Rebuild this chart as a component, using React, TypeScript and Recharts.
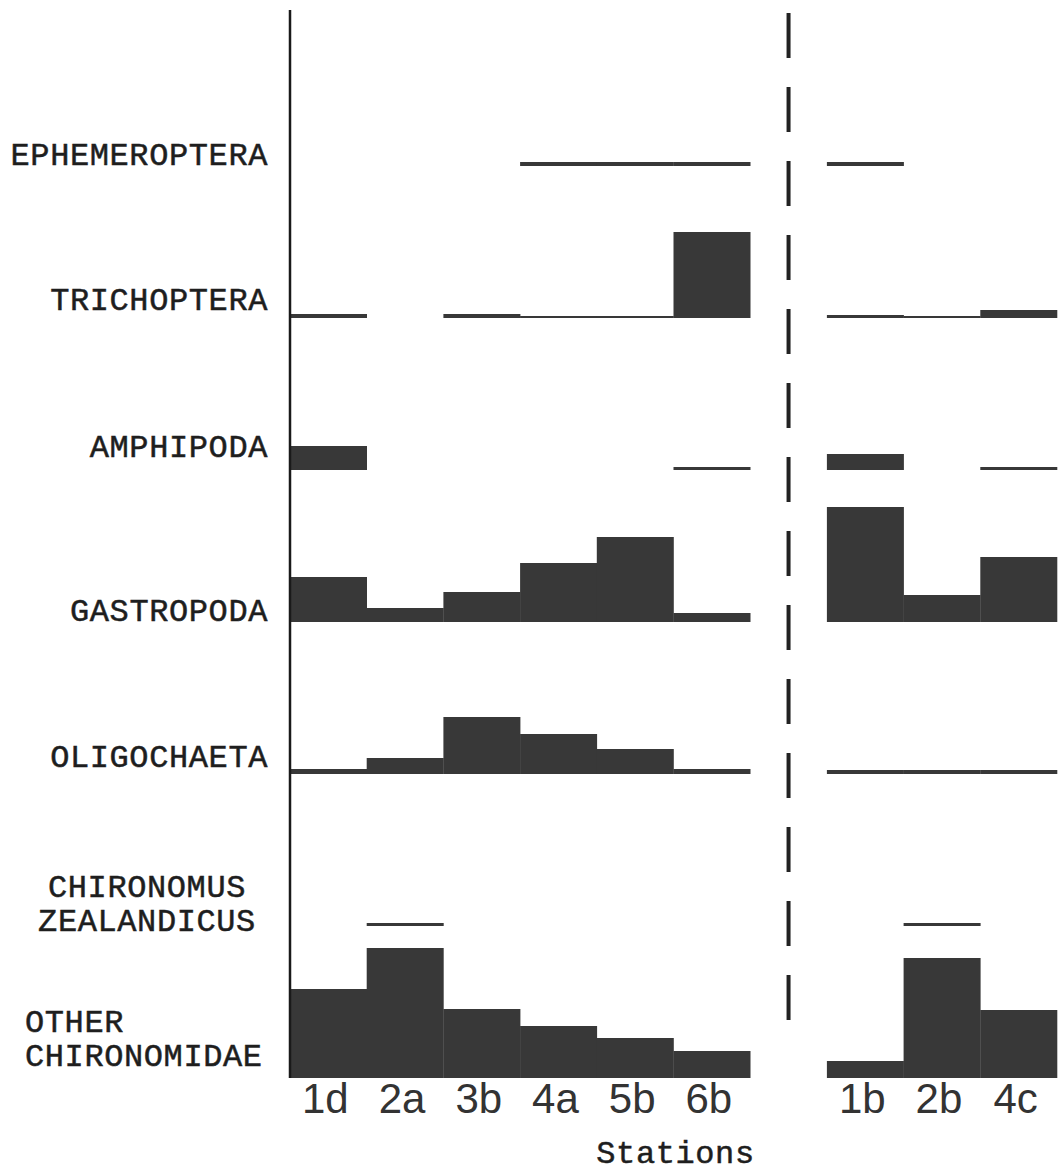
import React from 'react';
import { BarChart, Bar, XAxis, YAxis, ReferenceLine } from 'recharts';

// ---- data (arbitrary abundance units) ----
const stations = ['1d', '2a', '3b', '4a', '5b', '6b', ' ', '1b', '2b', '4c'];

const taxaLabels: string[][] = [
  ['EPHEMEROPTERA'],
  ['TRICHOPTERA'],
  ['AMPHIPODA'],
  ['GASTROPODA'],
  ['OLIGOCHAETA'],
  ['CHIRONOMUS', 'ZEALANDICUS'],
  ['OTHER', 'CHIRONOMIDAE'],
];

const ephemeroptera = [null, null, null, 4, 4, 4, null, 4, null, null];
const trichoptera = [4, null, 4, 2, 2, 86, null, 3, 2, 8];
const amphipoda = [24, null, null, null, null, 3, null, 16, null, 3];
const gastropoda = [45, 14, 30, 59, 85, 9, null, 115, 27, 65];
const oligochaeta = [5, 16, 57, 40, 25, 5, null, 4, 4, 4];
const chironomusZealandicus = [null, 3, null, null, null, null, null, null, 3, null];
const otherChironomidae = [89, 130, 69, 52, 40, 27, null, 17, 120, 68];

const seriesList: (number | null)[][] = [
  ephemeroptera,
  trichoptera,
  amphipoda,
  gastropoda,
  oligochaeta,
  chironomusZealandicus,
  otherChironomidae,
];

// ---- layout: baseline of each row on the shared vertical scale ----
const rowBase = [912, 760, 608, 456, 304, 152, 0];
const yMax = 1068;

const labelLayout = [
  { anchor: 'end', dx: 0, dy: -11 },
  { anchor: 'end', dx: 0, dy: -18 },
  { anchor: 'end', dx: 0, dy: -23 },
  { anchor: 'end', dx: 0, dy: -11 },
  { anchor: 'end', dx: 0, dy: -17 },
  { anchor: 'middle', dx: -121, dy: -39 },
  { anchor: 'start', dx: -243, dy: -56 },
];

const tableData = stations.map((s, i) => {
  const row: Record<string, any> = { station: s };
  seriesList.forEach((vals, k) => {
    const v = vals[i];
    row['t' + k] = v == null ? null : [rowBase[k], rowBase[k] + v];
  });
  return row;
});

const monoFont = '"Liberation Mono", "Courier New", monospace';
const sansFont = '"Liberation Sans", Arial, sans-serif';

const TaxonTick = (props: any) => {
  const { x, y, payload } = props;
  const k = rowBase.indexOf(payload.value);
  if (k < 0) return null;
  const lay = labelLayout[k];
  const lines = taxaLabels[k];
  return (
    <g>
      {lines.map((ln, j) => (
        <text
          key={j}
          x={x + lay.dx}
          y={y + lay.dy + 10 + j * 34}
          textAnchor={lay.anchor as any}
          fontFamily={monoFont}
          fontSize={32}
          letterSpacing={0.6}
          fill="#1e1e1e"
          stroke="#1e1e1e"
          strokeWidth={0.5}
        >
          {ln}
        </text>
      ))}
    </g>
  );
};

const StationTick = (props: any) => {
  const { x, y, payload } = props;
  return (
    <text
      x={x - 3}
      y={y + 35}
      textAnchor="middle"
      fontFamily={sansFont}
      fontSize={42}
      fill="#333"
    >
      {payload.value}
    </text>
  );
};

const StationsLabel = (props: any) => {
  const vb = props.viewBox || { x: 290, y: 1078, width: 767, height: 40 };
  return (
    <text
      x={vb.x + vb.width / 2 + 2}
      y={vb.y + 85}
      textAnchor="middle"
      fontFamily={monoFont}
      fontSize={32}
      letterSpacing={0.6}
      fill="#1e1e1e"
      stroke="#1e1e1e"
      strokeWidth={0.5}
    >
      Stations
    </text>
  );
};

export default function App() {
  return (
    <div
      style={{
        position: 'absolute',
        left: 0,
        top: 0,
        width: 1058,
        height: 1172,
        background: '#fff',
        overflow: 'hidden',
      }}
    >
      <BarChart
        width={1058}
        height={1172}
        data={tableData}
        margin={{ top: 10, right: 1, bottom: 54, left: 0 }}
        barCategoryGap={0}
        barGap={0}
      >
        <XAxis
          xAxisId="main"
          dataKey="station"
          height={40}
          axisLine={false}
          tickLine={false}
          tickSize={0}
          tickMargin={0}
          interval={0}
          tick={StationTick}
          label={{ value: 'Stations', content: StationsLabel }}
        />
        {seriesList.map((_, k) => (
          <XAxis key={'x' + k} xAxisId={'x' + k} dataKey="station" hide />
        ))}
        <YAxis
          type="number"
          domain={[0, yMax]}
          ticks={rowBase}
          interval={0}
          allowDataOverflow
          width={290}
          tickLine={false}
          tickSize={0}
          tickMargin={22}
          axisLine={{ stroke: '#1a1a1a', strokeWidth: 2.5 }}
          tick={TaxonTick}
        />
        {seriesList.map((_, k) => (
          <Bar
            key={'b' + k}
            xAxisId={'x' + k}
            dataKey={'t' + k}
            fill="#383838"
            isAnimationActive={false}
          />
        ))}
        <ReferenceLine
          xAxisId="main"
          segment={[
            { x: ' ', y: 1065 },
            { x: ' ', y: 53 },
          ]}
          stroke="#222"
          strokeWidth={4}
          strokeDasharray="45 29"
        />
      </BarChart>
    </div>
  );
}
